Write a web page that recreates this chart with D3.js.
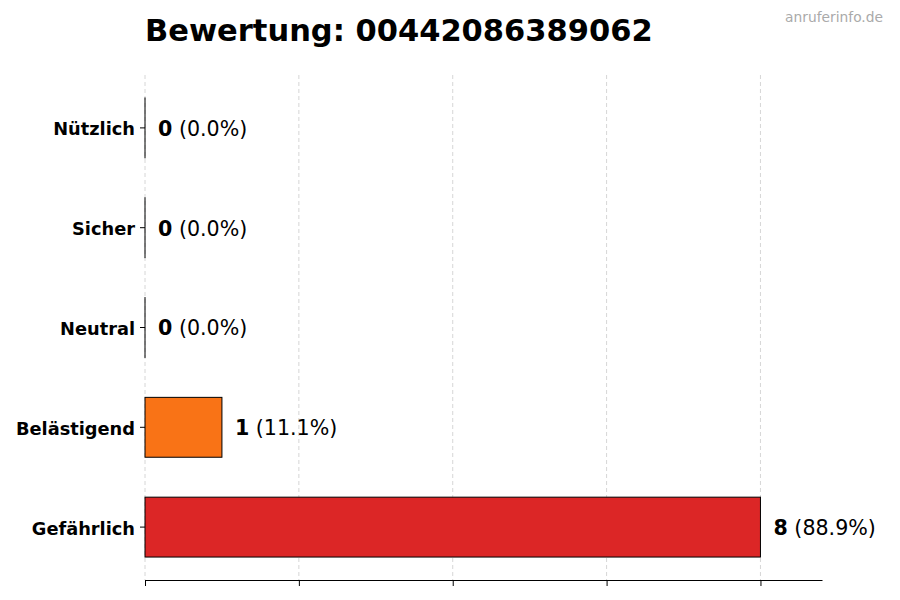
<!DOCTYPE html>
<html>
<head>
<meta charset="utf-8">
<script src="https://cdn.jsdelivr.net/npm/d3@7"></script>
<style>
  body { margin: 0; background: #fff; }
  text { font-family: "DejaVu Sans", sans-serif; }
</style>
</head>
<body>
<svg id="chart" width="900" height="600"></svg>
<script>
// chart data, top to bottom
var categories = ["Nützlich", "Sicher", "Neutral", "Belästigend", "Gefährlich"];
var counts = [0, 0, 0, 1, 8];
var percents = ["0.0%", "0.0%", "0.0%", "11.1%", "88.9%"];
var barColors = ["#16a34a", "#3b82f6", "#9ca3af", "#f97316", "#dc2626"];
var xTicks = [0, 2, 4, 6, 8];

var svg = d3.select("svg#chart");

// plot box (note: "top" is taken by window.top)
var plotLeft = 145, plotRight = 822, plotTop = 75, plotBottom = 580;

var x = d3.scaleLinear().domain([0, 8.8]).range([plotLeft, plotRight]);
var y = d3.scaleBand()
  .domain(categories)
  .range([plotTop, plotBottom])
  .paddingInner(0.4)
  .paddingOuter(0.23);

// title + watermark
svg.append("text")
  .attr("x", plotLeft).attr("y", 41)
  .attr("font-size", 30.5).attr("font-weight", "bold")
  .text("Bewertung: 00442086389062");

svg.append("text")
  .attr("x", 883).attr("y", 22)
  .attr("text-anchor", "end")
  .attr("font-size", 13.8).attr("fill", "#aaaaaa")
  .text("anruferinfo.de");

// grid
svg.append("g")
  .selectAll("line")
  .data(xTicks)
  .enter()
  .append("line")
  .attr("x1", d => x(d)).attr("x2", d => x(d))
  .attr("y1", plotTop).attr("y2", plotBottom)
  .attr("stroke", "#cccccc")
  .attr("stroke-width", 0.8)
  .attr("stroke-dasharray", "4,3");

// bottom axis, no labels
var xAxis = svg.append("g")
  .attr("transform", "translate(0," + plotBottom + ")")
  .call(d3.axisBottom(x).tickValues(xTicks).tickFormat("").tickSize(6).tickSizeOuter(0));
xAxis.select(".domain").attr("stroke", "#000").attr("stroke-width", 1.2);
xAxis.selectAll(".tick line").attr("stroke", "#000").attr("stroke-width", 1);

// left axis, ticks only
var yAxis = svg.append("g")
  .attr("transform", "translate(" + plotLeft + ",0)")
  .call(d3.axisLeft(y).tickSize(5).tickPadding(5));
yAxis.select(".domain").remove();
yAxis.selectAll(".tick line").attr("stroke", "#000");
yAxis.selectAll(".tick text")
  .attr("font-size", 17.8).attr("font-weight", "bold")
  .attr("fill", "#000")
  .attr("dy", "0.42em")
  .attr("font-family", "DejaVu Sans, sans-serif");

// bars (zero bars still get a hairline outline)
svg.append("g")
  .selectAll("rect")
  .data(categories)
  .enter()
  .append("rect")
  .attr("x", x(0))
  .attr("y", d => y(d))
  .attr("width", (d, i) => Math.max(x(counts[i]) - x(0), 0.01))
  .attr("height", y.bandwidth())
  .attr("fill", (d, i) => barColors[i])
  .attr("stroke", "#000")
  .attr("stroke-width", 1);

// value labels
var labels = svg.append("g")
  .selectAll("text")
  .data(categories)
  .enter()
  .append("text")
  .attr("x", (d, i) => x(counts[i]) + 13)
  .attr("y", d => y(d) + y.bandwidth() / 2)
  .attr("dy", "0.38em")
  .attr("font-size", 20.6);

labels.append("tspan")
  .attr("font-weight", "bold")
  .text((d, i) => counts[i]);
labels.append("tspan")
  .text((d, i) => " (" + percents[i] + ")");
</script>
</body>
</html>
